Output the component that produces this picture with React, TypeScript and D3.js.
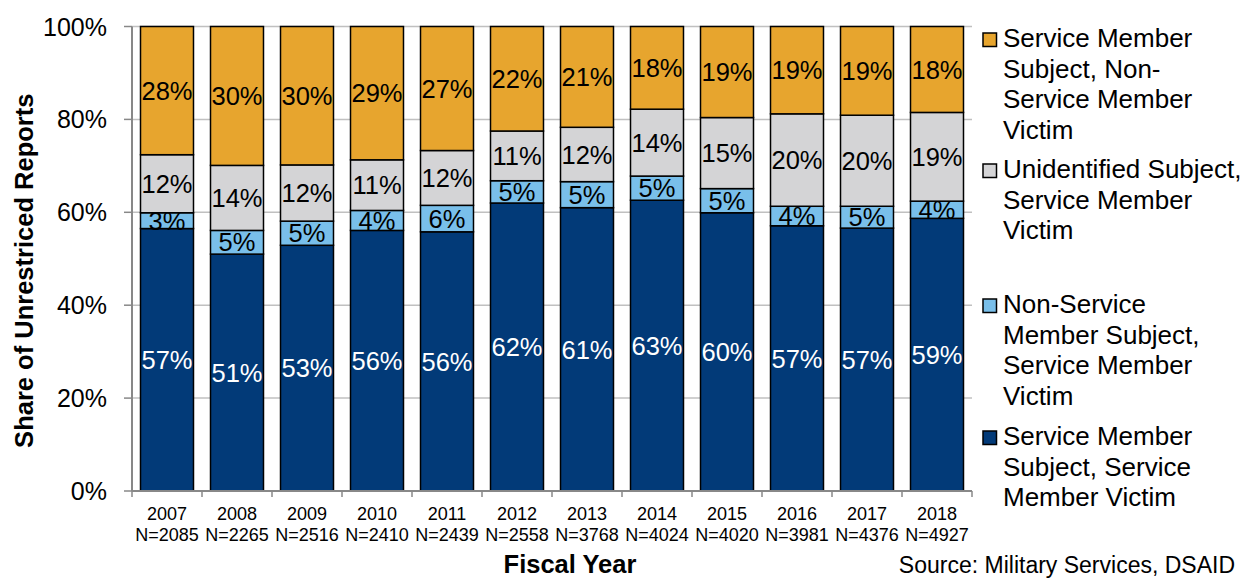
import React from "react";
import * as d3 from "d3";

const years = ["2007", "2008", "2009", "2010", "2011", "2012", "2013", "2014", "2015", "2016", "2017", "2018"];
const nCounts = [2085, 2265, 2516, 2410, 2439, 2558, 3768, 4024, 4020, 3981, 4376, 4927];

// segment shares (%), bottom to top
const smSubjectSmVictim = [56.5, 51.0, 52.9, 56.1, 55.8, 62.0, 61.0, 62.6, 59.9, 57.1, 56.6, 58.7];
const nonSmSubjectSmVictim = [3.4, 5.1, 5.2, 4.3, 5.7, 4.8, 5.6, 5.2, 5.2, 4.2, 4.7, 3.7];
const unidentifiedSubjectSmVictim = [12.5, 14.0, 12.1, 10.9, 11.8, 10.7, 11.7, 14.4, 15.3, 19.9, 19.6, 19.1];
const smSubjectNonSmVictim = [27.6, 29.9, 29.8, 28.7, 26.7, 22.5, 21.7, 17.8, 19.6, 18.8, 19.1, 18.5];

// printed labels
const smSubjectSmVictimLabels = [57, 51, 53, 56, 56, 62, 61, 63, 60, 57, 57, 59];
const nonSmSubjectSmVictimLabels = [3, 5, 5, 4, 6, 5, 5, 5, 5, 4, 5, 4];
const unidentifiedSubjectSmVictimLabels = [12, 14, 12, 11, 12, 11, 12, 14, 15, 20, 20, 19];
const smSubjectNonSmVictimLabels = [28, 30, 30, 29, 27, 22, 21, 18, 19, 19, 19, 18];

const yTicks = [0, 20, 40, 60, 80, 100];

const seriesKeys = ["a", "b", "c", "d"];
const seriesColors = ["#023A78", "#79BFEA", "#D4D4D6", "#E7A52E"];
const seriesTextColors = ["#FFFFFF", "#000000", "#000000", "#000000"];
const seriesLabels = [smSubjectSmVictimLabels, nonSmSubjectSmVictimLabels, unidentifiedSubjectSmVictimLabels, smSubjectNonSmVictimLabels];

const legendEntries = [
  { color: "#E7A52E", lines: ["Service Member", "Subject, Non-", "Service Member", "Victim"] },
  { color: "#D4D4D6", lines: ["Unidentified Subject,", "Service Member", "Victim"] },
  { color: "#79BFEA", lines: ["Non-Service", "Member Subject,", "Service Member", "Victim"] },
  { color: "#023A78", lines: ["Service Member", "Subject, Service", "Member Victim"] },
];
const legendBaselines = [47, 178, 313, 445];

const FONT = "'Liberation Sans', Arial, Helvetica, sans-serif";

export default function App() {
  const W = 1248, H = 579;
  const left = 132, right = 972, top = 26.5, bottom = 491;

  const rows = years.map((yr, i) => ({
    year: yr,
    a: smSubjectSmVictim[i],
    b: nonSmSubjectSmVictim[i],
    c: unidentifiedSubjectSmVictim[i],
    d: smSubjectNonSmVictim[i],
  }));
  const stacked = d3.stack<any>().keys(seriesKeys)(rows);

  const x = d3.scaleBand<string>().domain(years).range([left, right]).paddingInner(0.243).paddingOuter(0.1215);
  const y = d3.scaleLinear().domain([0, 100]).range([bottom, top]);
  const step = x.step();

  return (
    <svg width={W} height={H} style={{ position: "absolute", left: 0, top: 0, background: "#fff" }} fontFamily={FONT}>
      {/* gridlines */}
      {yTicks.filter((t) => t > 0).map((t) => (
        <line key={"g" + t} x1={left} x2={right} y1={y(t)} y2={y(t)} stroke="#C0C0C0" strokeWidth={1.5} />
      ))}
      {/* bars */}
      {stacked.map((s, si) =>
        s.map((d, i) => {
          const y0 = y(d[0]);
          const y1 = y(d[1]);
          return (
            <rect
              key={si + "-" + i}
              x={x(years[i])!}
              y={y1}
              width={x.bandwidth()}
              height={y0 - y1}
              fill={seriesColors[si]}
              stroke="#000"
              strokeWidth={1.5}
            />
          );
        })
      )}
      {/* data labels */}
      {stacked.map((s, si) =>
        s.map((d, i) => {
          const cy = (y(d[0]) + y(d[1])) / 2;
          return (
            <text
              key={"l" + si + "-" + i}
              x={x(years[i])! + x.bandwidth() / 2}
              y={cy}
              dy="0.36em"
              textAnchor="middle"
              fontSize={25.5}
              fill={seriesTextColors[si]}
            >
              {seriesLabels[si][i] + "%"}
            </text>
          );
        })
      )}
      {/* y axis */}
      <line x1={left} x2={left} y1={top} y2={bottom} stroke="#888" strokeWidth={2} />
      {yTicks.map((t) => (
        <g key={"yt" + t}>
          <line x1={left - 8} x2={left} y1={y(t)} y2={y(t)} stroke="#888" strokeWidth={1.5} />
          <text x={107} y={y(t)} dy="0.36em" textAnchor="end" fontSize={25} fill="#000">
            {t + "%"}
          </text>
        </g>
      ))}
      {/* x axis */}
      <line x1={left} x2={right} y1={bottom} y2={bottom} stroke="#888" strokeWidth={2} />
      {years.map((yr, i) => (
        <line key={"xt" + i} x1={left + step * i} x2={left + step * i} y1={bottom} y2={bottom + 6} stroke="#888" strokeWidth={1.5} />
      ))}
      <line x1={right} x2={right} y1={bottom} y2={bottom + 6} stroke="#888" strokeWidth={1.5} />
      {years.map((yr, i) => (
        <g key={"xl" + i}>
          <text x={x(yr)! + x.bandwidth() / 2} y={520} textAnchor="middle" fontSize={18} fill="#000">
            {yr}
          </text>
          <text x={x(yr)! + x.bandwidth() / 2} y={541} textAnchor="middle" fontSize={18} fill="#000">
            {"N=" + nCounts[i]}
          </text>
        </g>
      ))}
      {/* axis titles */}
      <text
        transform={`translate(33, ${(top + bottom) / 2 + 12}) rotate(-90)`}
        textAnchor="middle"
        fontSize={25.5}
        fontWeight="bold"
        fill="#000"
      >
        Share of Unrestriced Reports
      </text>
      <text x={570} y={573} textAnchor="middle" fontSize={25.5} fontWeight="bold" fill="#000">
        Fiscal Year
      </text>
      {/* legend */}
      {legendEntries.map((e, gi) => (
        <g key={"lg" + gi}>
          <rect x={983} y={legendBaselines[gi] - 14} width={13.5} height={13.5} fill={e.color} stroke="#000" strokeWidth={1.5} />
          {e.lines.map((ln, li) => (
            <text key={li} x={1003} y={legendBaselines[gi] + li * 30.5} fontSize={26} fill="#000">
              {ln}
            </text>
          ))}
        </g>
      ))}
      <text x={1235} y={573} textAnchor="end" fontSize={23} fill="#000">
        Source: Military Services, DSAID
      </text>
    </svg>
  );
}
